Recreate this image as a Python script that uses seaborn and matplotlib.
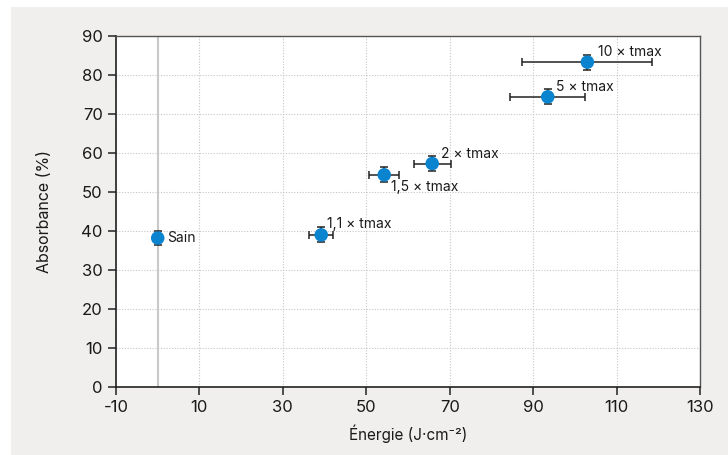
import matplotlib
matplotlib.use("Agg")
import matplotlib.pyplot as plt
import pandas as pd
import seaborn as sns
from matplotlib.patches import Rectangle

labels = ["Sain", "1,1 × tmax", "1,5 × tmax", "2 × tmax", "5 × tmax", "10 × tmax"]
energy = [0.0, 39.2, 54.3, 65.8, 93.5, 103.0]
energy_err = [0.0, 2.9, 3.6, 4.4, 9.0, 15.6]
absorbance = [38.2, 39.0, 54.4, 57.3, 74.4, 83.3]
absorbance_err = [1.9, 1.9, 1.9, 1.9, 1.9, 1.9]

df = pd.DataFrame({"label": labels, "energy": energy, "xerr": energy_err,
                   "absorbance": absorbance, "yerr": absorbance_err})

sns.set_style("white")
plt.rcParams["font.family"] = ["Inter", "DejaVu Sans"]
plt.rcParams["axes.unicode_minus"] = False

fig = plt.figure(figsize=(7.28, 4.55), dpi=100, facecolor="white")
fig.patches.append(Rectangle((11 / 728, 0), 1, 1 - 7 / 455, transform=fig.transFigure,
                             facecolor="#f0efed", edgecolor="none", zorder=-10))
ax = fig.add_axes([116 / 728, 1 - 387 / 455, 584 / 728, 351 / 455])
ax.set_facecolor("white")

# vertical reference line at 0
ax.axvline(0, color="#c8c8c8", lw=1.5, zorder=1)

ax.errorbar(df["energy"], df["absorbance"], xerr=df["xerr"], yerr=df["yerr"],
            fmt="none", ecolor="#222222", elinewidth=1.1, capsize=3, capthick=1.1, zorder=3)
sns.scatterplot(data=df, x="energy", y="absorbance", ax=ax, color="#0a84cf",
                s=95, edgecolor="none", zorder=4, legend=False)

offsets = {
    "Sain": (7, 0, "left", "center"),
    "1,1 × tmax": (4, 3, "left", "bottom"),
    "1,5 × tmax": (5, -4, "left", "top"),
    "2 × tmax": (6, 2, "left", "bottom"),
    "5 × tmax": (6, 2, "left", "bottom"),
    "10 × tmax": (8, 2, "left", "bottom"),
}
for _, r in df.iterrows():
    dx, dy, ha, va = offsets[r["label"]]
    ax.annotate(r["label"], (r["energy"], r["absorbance"]), xytext=(dx, dy),
                textcoords="offset points", ha=ha, va=va, fontsize=10, color="#1a1a1a")

ax.set_xlim(-10, 130)
ax.set_ylim(0, 90)
ax.set_xticks(range(-10, 131, 20))
ax.set_yticks(range(0, 91, 10))
ax.grid(True, color="#c4c4c4", linestyle=(0, (1, 1.5)), linewidth=0.8)
ax.set_axisbelow(True)

for side in ["left", "bottom"]:
    ax.spines[side].set_color("#222222")
    ax.spines[side].set_linewidth(1.2)
for side in ["top", "right"]:
    ax.spines[side].set_color("#555555")
    ax.spines[side].set_linewidth(1.0)

ax.tick_params(axis="both", direction="out", length=6, width=1.1, color="#222222",
               labelsize=12, labelcolor="#1a1a1a", left=True, bottom=True)
ax.set_xlabel("Énergie (J·cm⁻²)", fontsize=11, color="#1a1a1a", labelpad=7)
ax.set_ylabel("Absorbance (%)", fontsize=11.5, color="#1a1a1a", labelpad=21)

fig.savefig("out.png", dpi=100, facecolor=fig.get_facecolor())
